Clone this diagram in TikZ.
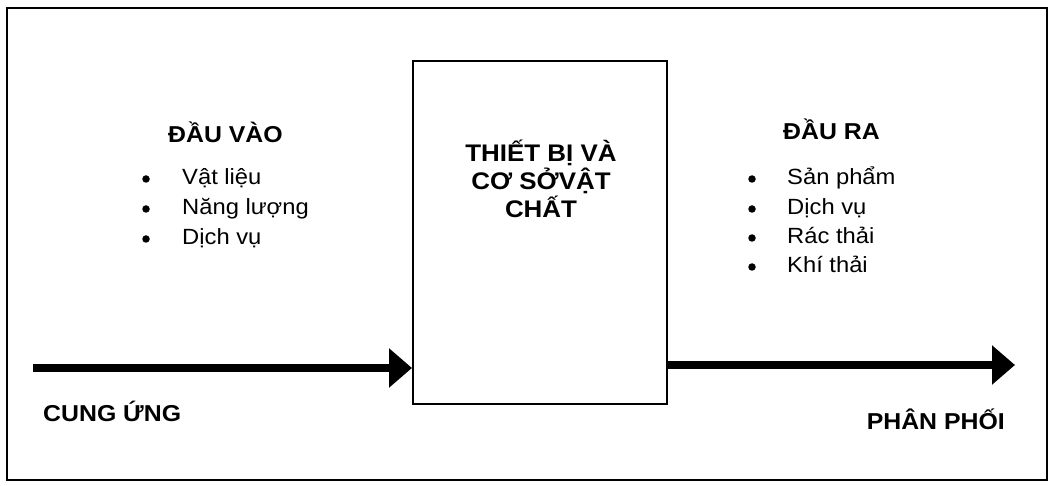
\documentclass[tikz,border=0pt]{standalone}
\usepackage{fontspec}
\setmainfont{Liberation Sans}[FakeStretch=1.08]
\usetikzlibrary{arrows.meta}
\tikzset{
  frame/.style={draw=black, line width=2.5pt},
  mainbox/.style={draw=black, line width=2pt, minimum width=254pt, minimum height=343pt, inner sep=0pt},
  flow/.style={line width=7.5pt, -{Triangle[length=23pt,width=38pt]}},
  head/.style={font=\fontsize{23}{27}\selectfont\bfseries, inner sep=0pt},
  item/.style={font=\fontsize{22}{26}\selectfont, inner sep=0pt, anchor=base west},
  dot/.style={circle, fill=black, minimum size=7.5pt, inner sep=0pt},
  boxtext/.style={font=\fontsize{24}{28}\selectfont\bfseries, align=center, inner sep=0pt}
}
\begin{document}
\begin{tikzpicture}[x=1pt,y=-1pt]
\useasboundingbox (0,0) rectangle (1053,486);
\draw[frame] (7,8) rectangle (1047,480);
\node[mainbox] (box) at (540,232.5) {};
\node[boxtext, anchor=base] (boxlbl) at (541,218) {THIẾT BỊ VÀ\\CƠ SỞVẬT\\CHẤT};
% inputs
\node[head, anchor=base west] (inhead) at (168,143) {ĐẦU VÀO};
\node[dot] (b1) at (146,179) {};
\node[dot] (b2) at (146,209) {};
\node[dot] (b3) at (146,239) {};
\node[item] (i1) at (182,185) {Vật liệu};
\node[item] (i2) at (182,215) {Năng lượng};
\node[item] (i3) at (182,245) {Dịch vụ};
% outputs
\node[head, anchor=base west] (outhead) at (783,140) {ĐẦU RA};
\node[dot] (c1) at (752,179) {};
\node[dot] (c2) at (752,209) {};
\node[dot] (c3) at (752,238) {};
\node[dot] (c4) at (752,267) {};
\node[item] (o1) at (787,185) {Sản phẩm};
\node[item] (o2) at (787,215) {Dịch vụ};
\node[item] (o3) at (787,244) {Rác thải};
\node[item] (o4) at (787,273) {Khí thải};
% flows
\coordinate (inS) at (33,368);
\coordinate (outE) at (1015,365);
\draw[flow] (inS) -- (inS -| box.west);
\draw[flow] (outE -| box.east) -- (outE);
\node[head, anchor=base west] (supply) at (43,422) {CUNG ỨNG};
\node[head, anchor=base east] (distr) at (1005,430) {PHÂN PHỐI};
\end{tikzpicture}
\end{document}
